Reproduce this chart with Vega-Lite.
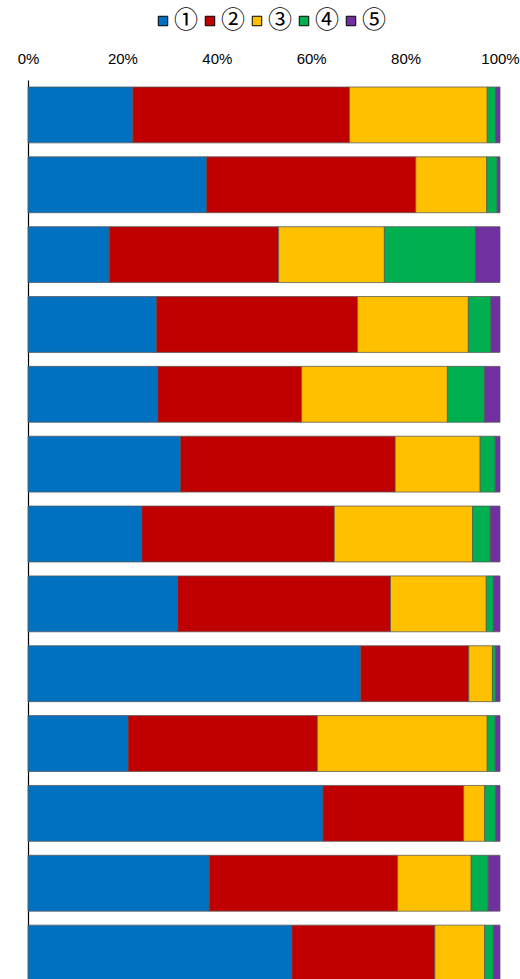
{
  "$schema": "https://vega.github.io/schema/vega-lite/v6.json",
  "autosize": {"type": "none"},
  "padding": {"left": 28, "top": 80, "right": 20, "bottom": 0},
  "width": 472,
  "height": 908,
  "background": "white",
  "config": {"view": {"stroke": null}},
  "data": {
    "values": [
      {"row": 1, "cat": "①", "v": 22.2}, {"row": 1, "cat": "②", "v": 45.9}, {"row": 1, "cat": "③", "v": 29.2}, {"row": 1, "cat": "④", "v": 1.8}, {"row": 1, "cat": "⑤", "v": 0.9},
      {"row": 2, "cat": "①", "v": 37.8}, {"row": 2, "cat": "②", "v": 44.35}, {"row": 2, "cat": "③", "v": 15.05}, {"row": 2, "cat": "④", "v": 2.2}, {"row": 2, "cat": "⑤", "v": 0.6},
      {"row": 3, "cat": "①", "v": 17.2}, {"row": 3, "cat": "②", "v": 35.9}, {"row": 3, "cat": "③", "v": 22.4}, {"row": 3, "cat": "④", "v": 19.3}, {"row": 3, "cat": "⑤", "v": 5.2},
      {"row": 4, "cat": "①", "v": 27.2}, {"row": 4, "cat": "②", "v": 42.6}, {"row": 4, "cat": "③", "v": 23.5}, {"row": 4, "cat": "④", "v": 4.8}, {"row": 4, "cat": "⑤", "v": 1.9},
      {"row": 5, "cat": "①", "v": 27.5}, {"row": 5, "cat": "②", "v": 30.5}, {"row": 5, "cat": "③", "v": 30.9}, {"row": 5, "cat": "④", "v": 7.9}, {"row": 5, "cat": "⑤", "v": 3.25},
      {"row": 6, "cat": "①", "v": 32.3}, {"row": 6, "cat": "②", "v": 45.5}, {"row": 6, "cat": "③", "v": 18.0}, {"row": 6, "cat": "④", "v": 3.2}, {"row": 6, "cat": "⑤", "v": 1.0},
      {"row": 7, "cat": "①", "v": 24.1}, {"row": 7, "cat": "②", "v": 40.8}, {"row": 7, "cat": "③", "v": 29.3}, {"row": 7, "cat": "④", "v": 3.75}, {"row": 7, "cat": "⑤", "v": 2.05},
      {"row": 8, "cat": "①", "v": 31.7}, {"row": 8, "cat": "②", "v": 45.1}, {"row": 8, "cat": "③", "v": 20.3}, {"row": 8, "cat": "④", "v": 1.5}, {"row": 8, "cat": "⑤", "v": 1.4},
      {"row": 9, "cat": "①", "v": 70.5}, {"row": 9, "cat": "②", "v": 22.9}, {"row": 9, "cat": "③", "v": 5.0}, {"row": 9, "cat": "④", "v": 0.7}, {"row": 9, "cat": "⑤", "v": 0.9},
      {"row": 10, "cat": "①", "v": 21.2}, {"row": 10, "cat": "②", "v": 40.1}, {"row": 10, "cat": "③", "v": 36.0}, {"row": 10, "cat": "④", "v": 1.7}, {"row": 10, "cat": "⑤", "v": 1.0},
      {"row": 11, "cat": "①", "v": 62.5}, {"row": 11, "cat": "②", "v": 29.8}, {"row": 11, "cat": "③", "v": 4.45}, {"row": 11, "cat": "④", "v": 2.35}, {"row": 11, "cat": "⑤", "v": 0.9},
      {"row": 12, "cat": "①", "v": 38.4}, {"row": 12, "cat": "②", "v": 39.9}, {"row": 12, "cat": "③", "v": 15.6}, {"row": 12, "cat": "④", "v": 3.6}, {"row": 12, "cat": "⑤", "v": 2.5},
      {"row": 13, "cat": "①", "v": 55.9}, {"row": 13, "cat": "②", "v": 30.3}, {"row": 13, "cat": "③", "v": 10.55}, {"row": 13, "cat": "④", "v": 1.85}, {"row": 13, "cat": "⑤", "v": 1.4}
    ]
  },
  "mark": {"type": "bar", "stroke": "#555555", "strokeWidth": 0.75},
  "encoding": {
    "y": {
      "field": "row", "type": "ordinal",
      "scale": {"paddingInner": 0.2, "paddingOuter": 0.1},
      "axis": {"title": null, "labels": false, "ticks": false, "domain": true, "domainColor": "#000000", "domainWidth": 1.2, "grid": false}
    },
    "x": {
      "field": "v", "type": "quantitative", "stack": "normalize",
      "scale": {"domain": [0, 1], "nice": false},
      "axis": {"orient": "top", "title": null, "format": ".0%", "values": [0, 0.2, 0.4, 0.6, 0.8, 1], "ticks": false, "domain": false, "grid": false, "labelFlush": false, "labelPadding": 14, "labelFont": "Liberation Sans", "labelFontSize": 15, "labelColor": "#000000"}
    },
    "color": {
      "field": "cat", "type": "nominal",
      "scale": {"domain": ["①", "②", "③", "④", "⑤"], "range": ["#0070C0", "#C00000", "#FFC000", "#00B050", "#7030A0"]},
      "legend": {"title": null, "orient": "none", "direction": "horizontal", "legendX": 123, "legendY": -71, "padding": 0, "symbolType": "square", "symbolSize": 90, "symbolStrokeColor": "#000000", "symbolStrokeWidth": 1, "symbolOpacity": 1, "labelFont": "Noto Sans CJK JP", "labelFontSize": 24, "labelColor": "#000000", "labelOffset": -1, "columnPadding": -8}
    },
    "order": {"field": "cat", "type": "nominal"}
  }
}
